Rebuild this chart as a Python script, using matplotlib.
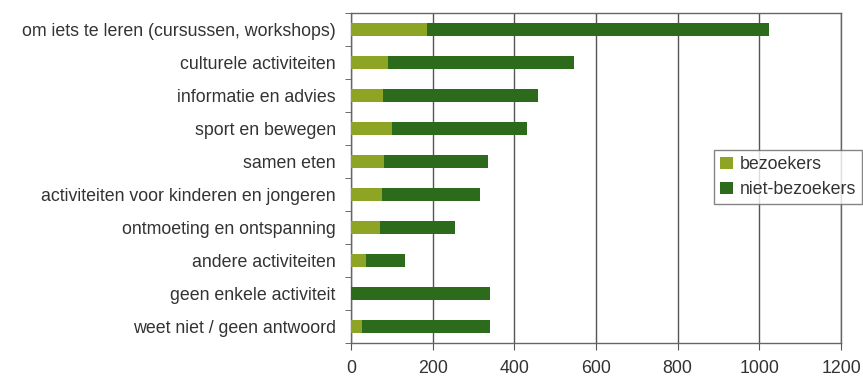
import matplotlib
matplotlib.use("Agg")
import matplotlib.pyplot as plt

plt.rcParams['font.family'] = ['Liberation Sans', 'DejaVu Sans']

categories = [
    "om iets te leren (cursussen, workshops)",
    "culturele activiteiten",
    "informatie en advies",
    "sport en bewegen",
    "samen eten",
    "activiteiten voor kinderen en jongeren",
    "ontmoeting en ontspanning",
    "andere activiteiten",
    "geen enkele activiteit",
    "weet niet / geen antwoord",
]
bezoekers = [185, 91, 79, 101, 81, 75, 72, 37, 0, 28]
niet_bezoekers = [839, 456, 380, 330, 255, 240, 183, 96, 341, 313]
x_ticks = [0, 200, 400, 600, 800, 1000, 1200]

light = "#8ea425"
dark = "#2c6a1c"
text_col = "#333333"
fs = 12.8

fig = plt.figure(figsize=(8.63, 3.79), dpi=100)
ax = fig.add_axes([351 / 863, 36 / 379, 490 / 863, 330 / 379])

y = list(range(len(categories)))
ax.barh(y, bezoekers, height=0.42, color=light, label="bezoekers", zorder=3)
ax.barh(y, niet_bezoekers, left=bezoekers, height=0.42, color=dark,
        label="niet-bezoekers", zorder=3)

ax.set_ylim(len(categories) - 0.5, -0.5)
ax.set_xlim(0, 1200)
ax.set_xticks(x_ticks)
ax.set_xticklabels([str(t) for t in x_ticks], fontsize=fs, color=text_col)
ax.set_yticks(y)
ax.set_yticklabels(categories, fontsize=fs, color=text_col)
ax.tick_params(axis='y', which='major', length=0, pad=11)
ax.set_yticks([i + 0.5 for i in range(-1, len(categories))], minor=True)
ax.tick_params(axis='y', which='minor', length=4, color="#555555")
ax.tick_params(axis='x', length=5, color="#555555", pad=7)

ax.grid(axis='x', color="#555555", linewidth=1.0, zorder=1)
for s in ax.spines.values():
    s.set_color("#666666")
    s.set_linewidth(1.0)

leg = fig.legend(loc='upper left', bbox_to_anchor=(714 / 863, 1 - 150 / 379),
                 fontsize=fs, frameon=True, fancybox=False, edgecolor="#666666",
                 handlelength=0.7, handleheight=0.7, handletextpad=0.4,
                 borderpad=0.35, labelspacing=0.45, borderaxespad=0,
                 labelcolor=text_col)
leg.get_frame().set_linewidth(1.0)

fig.savefig("out.png", dpi=100)
